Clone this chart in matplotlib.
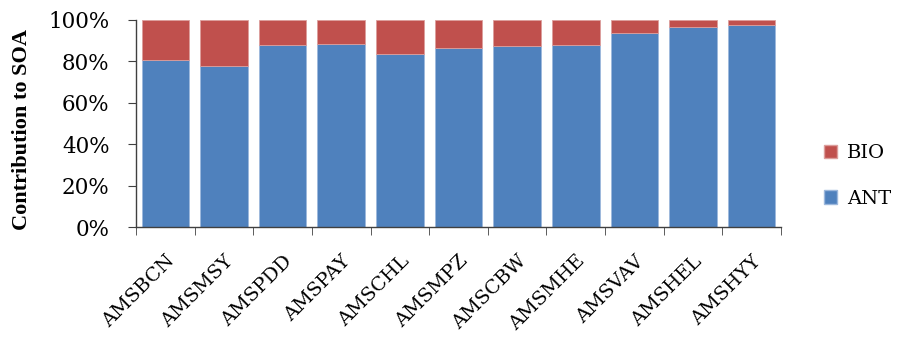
import matplotlib
matplotlib.use("Agg")
import matplotlib.pyplot as plt
import numpy as np
from matplotlib.patches import Patch

categories = ["AMSBCN", "AMSMSY", "AMSPDD", "AMSPAY", "AMSCHL", "AMSMPZ",
              "AMSCBW", "AMSMHE", "AMSVAV", "AMSHEL", "AMSHYY"]
ant = [80.5, 77.9, 87.9, 88.6, 83.7, 86.6, 87.4, 87.9, 93.6, 96.6, 97.4]
bio = [100 - a for a in ant]
yticks = [0, 20, 40, 60, 80, 100]
ytick_labels = ["0%", "20%", "40%", "60%", "80%", "100%"]

blue = "#4F81BD"
red = "#C0504D"

plt.rcParams['font.family'] = ['DejaVu Serif', 'Liberation Serif']

fig = plt.figure(figsize=(8.97, 3.38), dpi=100)
ax = fig.add_axes([136/897, 1-227/338, (781-136)/897, (227-20)/338])

x = np.arange(len(categories))
w = 0.81
ax.bar(x, ant, width=w, color=blue, edgecolor="#9DB8DC", linewidth=0.6, label="ANT")
ax.bar(x, bio, bottom=ant, width=w, color=red, edgecolor="#DC9E9C", linewidth=0.6, label="BIO")

ax.set_xlim(-0.5, len(categories) - 0.5)
ax.set_ylim(0, 100)
ax.set_yticks(yticks)
ax.set_yticklabels(ytick_labels, fontsize=15.5)
ax.set_xticks(x)
ax.set_xticklabels(categories, rotation=45, ha="right", va="top",
                   rotation_mode="anchor", fontsize=14)
ax.tick_params(axis="x", which="major", length=0, pad=18)
ax.set_xticks(np.arange(-0.5, len(categories)), minor=True)
ax.tick_params(axis="x", which="minor", length=6, direction="out", color="#404040")
ax.tick_params(axis="y", length=6, direction="out", color="#404040", pad=13)

for s in ["top", "right"]:
    ax.spines[s].set_visible(False)
for s in ["left", "bottom"]:
    ax.spines[s].set_color("#404040")
    ax.spines[s].set_linewidth(1.0)

fig.text(22/897, 1-129/338, "Contribution to SOA", rotation=90, fontsize=16,
         fontweight="bold", family=["Liberation Serif", "DejaVu Serif"],
         ha="center", va="center")

handles = [Patch(facecolor=red, edgecolor="#DC9E9C"), Patch(facecolor=blue, edgecolor="#9DB8DC")]
fig.legend(handles, ["BIO", "ANT"], loc="center left", bbox_to_anchor=(806/897, 1-176/338),
           frameon=False, fontsize=14, handlelength=0.7, handleheight=0.7,
           handletextpad=0.5, labelspacing=1.4)

fig.savefig("out.png", dpi=100)
